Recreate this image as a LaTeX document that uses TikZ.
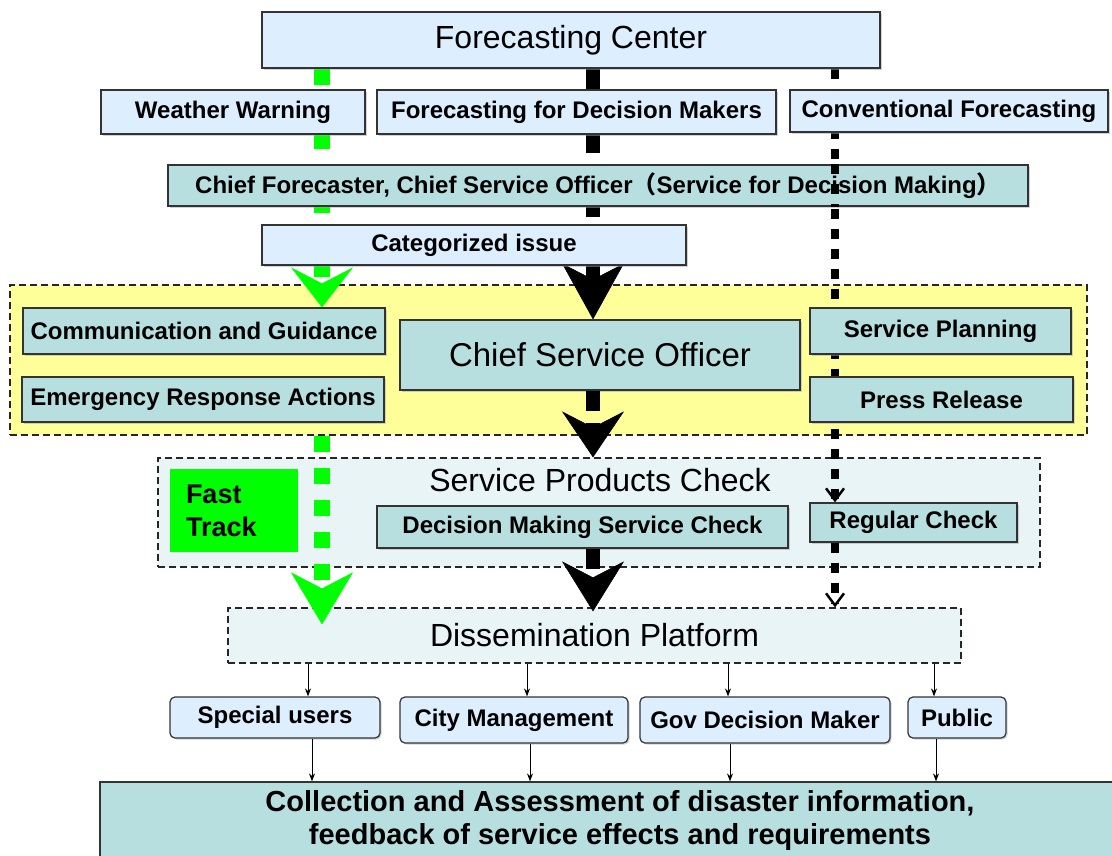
\documentclass[tikz,border=0pt]{standalone}
\usepackage{fontspec}
\setmainfont{Liberation Sans}
\newfontfamily\cjk{Noto Sans CJK SC}
\usetikzlibrary{arrows.meta,calc,shadows}
\pgfdeclarelayer{regions}
\pgfdeclarelayer{flows}
\pgfdeclarelayer{over}
\pgfsetlayers{regions,flows,main,over}

\definecolor{paleblue}{RGB}{221,238,255}
\definecolor{tealfill}{RGB}{184,223,224}
\definecolor{zoneyellow}{RGB}{255,255,153}
\definecolor{zonegrey}{RGB}{232,244,246}
\definecolor{fastgreen}{RGB}{0,255,0}

\tikzset{
	box/.style={draw=black!80, line width=1.2pt, inner sep=0pt, font=\bfseries\fontsize{24}{28}\selectfont,
		drop shadow={shadow xshift=1.5pt, shadow yshift=-1.5pt, fill=black!35}},
	bluebox/.style={box, fill=paleblue},
	tbox/.style={box, fill=tealfill},
	userbox/.style={bluebox, rounded corners=5pt},
	zone/.style={draw=black!85, line width=1.2pt, dash pattern=on 7pt off 4pt},
	bigtext/.style={font=\fontsize{32}{36}\selectfont},
	greenflow/.style={draw=fastgreen, line width=16pt, dash pattern=on 16pt off 16pt},
	blackflow/.style={draw=black, line width=14pt, dash pattern=on 20pt off 12pt},
	dotflow/.style={draw=black, line width=8pt, dash pattern=on 10pt off 10pt},
	bighead/.style={-{Stealth[length=#1, width=62pt, inset=16pt, line width=0.5pt]}},
	smallhead/.style={-{Straight Barb[length=12pt, width=18pt, line width=2.5pt]}},
	userarrow/.style={-{Stealth[length=8pt, width=6pt]}, line width=0.9pt},
}

\begin{document}
\begin{tikzpicture}[x=1pt, y=-1pt]
			%%%%% START %%%%%
			\useasboundingbox (0,0) rectangle (1112,855);
			
			\begin{pgfonlayer}{regions}
			\node[zone, fill=zoneyellow, minimum width=1077pt, minimum height=150pt] (duty) at (548.5,360) {};
			\node[zone, fill=zonegrey, minimum width=882pt, minimum height=109pt] (check) at (599,512.5) {};
			\end{pgfonlayer}
			
			\node[bluebox, bigtext, minimum width=618pt, minimum height=56pt] (fc) at (571,40) {Forecasting Center};
			\node[bluebox, minimum width=264pt, minimum height=44pt] (warn) at (233,112) {Weather Warning};
			\node[bluebox, minimum width=399pt, minimum height=44pt] (fdm) at (576.5,112) {Forecasting for Decision Makers};
			\node[bluebox, minimum width=318pt, minimum height=42pt] (conv) at (949,111) {Conventional Forecasting};
			\node[tbox, minimum width=860pt, minimum height=41pt] (chief) at (598,185.5)
				{Chief Forecaster, Chief Service Officer{\cjk （}Service for Decision Making{\cjk ）}};
			\node[bluebox, minimum width=424pt, minimum height=40pt] (cat) at (474,245) {Categorized issue};
			
			\node[tbox, minimum width=362pt, minimum height=46pt] (comm) at (204,331) {Communication and Guidance};
			\node[tbox, minimum width=362pt, minimum height=45pt] (emer) at (203,399.5) {Emergency Response Actions};
			\node[tbox, font=\fontsize{33}{38}\selectfont, minimum width=400pt, minimum height=70pt] (cso) at (600,355) {Chief Service Officer};
			\node[tbox, minimum width=261pt, minimum height=46pt] (plan) at (940.5,331) {Service Planning};
			\node[tbox, minimum width=263pt, minimum height=45pt] (press) at (941.5,399.5) {Press Release};
			
			\node[bigtext] (checktitle) at (600,480) {Service Products Check};
			\node[fill=fastgreen, minimum width=128pt, minimum height=83pt, inner sep=0pt, text width=96pt, align=left,
				font=\bfseries\fontsize{27}{33}\selectfont] (fast) at (234,510.5) {Fast\\Track};
			\node[tbox, minimum width=411pt, minimum height=42pt] (dmsc) at (582.5,527) {Decision Making Service Check};
			\node[tbox, minimum width=207pt, minimum height=39pt] (regular) at (913.5,522.5) {Regular Check};
			
			\node[zone, fill=zonegrey, bigtext, minimum width=733pt, minimum height=55pt] (dissem) at (594.5,635.5) {Dissemination Platform};
			
			\node[userbox, minimum width=210pt, minimum height=41pt] (special) at (275,717.5) {Special users};
			\node[userbox, minimum width=228pt, minimum height=46pt] (city) at (514,720) {City Management};
			\node[userbox, minimum width=250pt, minimum height=46pt] (gov) at (765,720) {Gov Decision Maker};
			\node[userbox, minimum width=98pt, minimum height=41pt] (public) at (957,717.5) {Public};
			
			\node[tbox, minimum width=1040pt, minimum height=76pt, align=center, font=\bfseries\fontsize{29}{33}\selectfont] (collect) at (620,820)
				{Collection and Assessment of disaster information,\\feedback of service effects and requirements};
			
			\coordinate (gx) at (322,0);
			\coordinate (bx) at (593,0);
			\coordinate (dx) at (835,0);
			
			\begin{pgfonlayer}{flows}
			\draw[greenflow, bighead=40pt] (fc.south -| gx) -- (comm.north -| gx);
			\draw[blackflow, bighead=56pt] (fc.south -| bx) -- (cso.north -| bx);
			\draw[dotflow, smallhead] (fc.south -| dx) -- (regular.north -| dx);
			\end{pgfonlayer}
			\begin{pgfonlayer}{over}
			\draw[dotflow] (chief.north -| dx) -- (chief.south -| dx);
			\end{pgfonlayer}
			
			\draw[greenflow, bighead=52pt] (duty.south -| gx) -- ($(dissem.north -| gx)+(0,17)$);
			\draw[blackflow, bighead=46pt] (cso.south -| bx) -- (check.north -| bx);
			\draw[blackflow, bighead=50pt] (dmsc.south -| bx) -- ($(dissem.north -| bx)+(0,4)$);
			\draw[dotflow, smallhead] (regular.south -| dx) -- (dissem.north -| dx);
			
			\foreach \u/\a/\b in {special/33/37, city/13/16, gov/-37/-35, public/-23/-21} {
				\draw[userarrow] ([xshift=\a pt]\u.north |- dissem.south) -- ([xshift=\a pt]\u.north);
				\draw[userarrow] ([xshift=\b pt]\u.south) -- ([xshift=\b pt]\u.south |- collect.north);
			}
			%%%%% END %%%%%
\end{tikzpicture}
\end{document}
